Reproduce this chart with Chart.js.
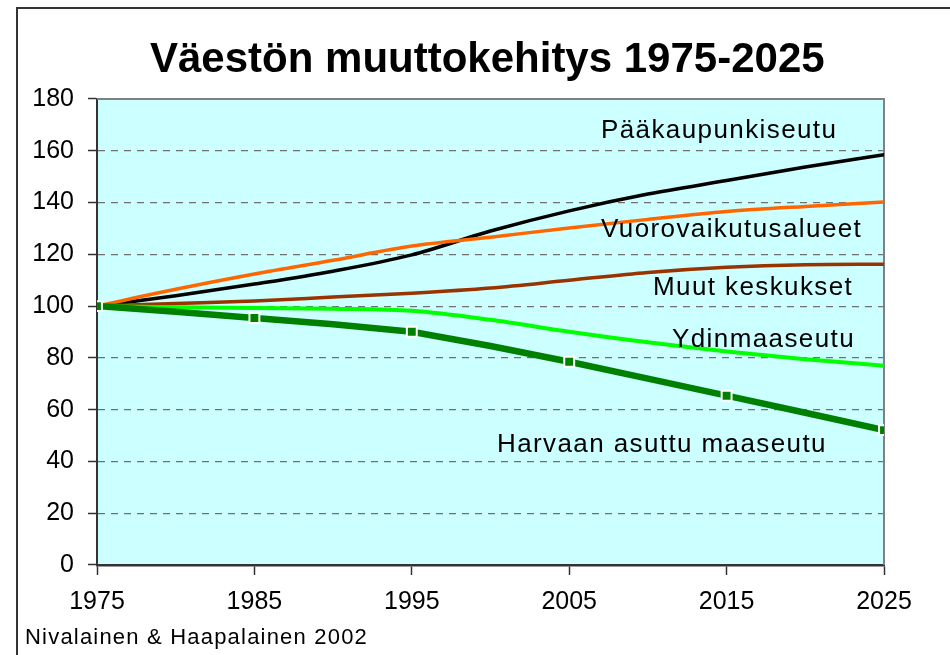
<!DOCTYPE html>
<html>
<head>
<meta charset="utf-8">
<script src="https://cdn.jsdelivr.net/npm/chart.js@4.4.0/dist/chart.umd.min.js"></script>
<style>
  html, body { margin: 0; padding: 0; background: #fff; overflow: hidden; }
  #wrap { position: relative; width: 950px; height: 655px; overflow: hidden; font-family: "Liberation Sans", Arial, sans-serif; }
  #frame { position: absolute; left: 16px; top: 7px; width: 1000px; height: 800px; border: 2px solid #333; box-sizing: border-box; }
  canvas { position: absolute; left: 0; top: 0; }
  .t { position: absolute; white-space: nowrap; color: #000; line-height: 1; }
  .s { font-size: 26px; letter-spacing: 1.4px; }
</style>
</head>
<body>
<div id="wrap">
  <div id="frame"></div>
  <canvas id="c" width="950" height="655"></canvas>
  <div class="t" id="title" style="left:150px; top:37px; font-size:42px; font-weight:bold;">Väestön muuttokehitys 1975-2025</div>
  <div class="t s" style="left:601px; top:116px;">Pääkaupunkiseutu</div>
  <div class="t s" style="left:601px; top:215px;">Vuorovaikutusalueet</div>
  <div class="t s" style="left:653px; top:273px;">Muut keskukset</div>
  <div class="t s" style="left:672px; top:325px;">Ydinmaaseutu</div>
  <div class="t s" style="left:497px; top:430px;">Harvaan asuttu maaseutu</div>
  <div class="t" style="left:25px; top:626px; font-size:22px; letter-spacing:1.2px;">Nivalainen &amp; Haapalainen 2002</div>
</div>
<script>
const years = [1975, 1980, 1985, 1990, 1995, 2000, 2005, 2010, 2015, 2020, 2025];
const paakaupunkiseutu   = [100, 104, 108.5, 113.5, 119.8, 129, 136.8, 143.3, 148.5, 153.7, 158.5];
const vuorovaikutus      = [100, 106.5, 112.4, 117.7, 123.2, 126.6, 130.2, 133.5, 136.5, 138.5, 140.2];
const muutKeskukset      = [100, 101, 102, 103.5, 105, 107, 110, 113, 115, 116, 116.2];
const ydinmaaseutu       = [100, 99.6, 99.3, 99, 98.2, 94.7, 90.1, 86, 82.5, 79.5, 77];
const harvaanAsuttu      = [100, 97.8, 95.4, 93, 90.1, 84.6, 78.5, 72, 65.4, 58.8, 52.1];
const markerYears        = [1975, 1985, 1995, 2005, 2015, 2025];
const xTicks = [1975, 1985, 1995, 2005, 2015, 2025];
const yTicks = [0, 20, 40, 60, 80, 100, 120, 140, 160, 180];

const pts = arr => years.map((y, i) => ({ x: y, y: arr[i] }));

const bgPlugin = {
  id: 'bg',
  beforeDraw(chart) {
    const { ctx, chartArea: a } = chart;
    ctx.save();
    ctx.fillStyle = '#ccffff';
    ctx.fillRect(a.left, a.top, a.right - a.left, a.bottom - a.top);
    ctx.restore();
  },
  beforeDatasetsDraw(chart) {
    const { ctx, chartArea: a } = chart;
    ctx.save();
    ctx.strokeStyle = '#808080';
    ctx.lineWidth = 2;
    ctx.beginPath();
    ctx.moveTo(a.left, a.top);
    ctx.lineTo(a.right, a.top);
    ctx.lineTo(a.right, a.bottom);
    ctx.stroke();
    ctx.restore();
  }
};

const line = (data, color, width) => ({
  data: pts(data),
  borderColor: color,
  backgroundColor: color,
  borderWidth: width,
  pointRadius: 0,
  cubicInterpolationMode: 'monotone',
  fill: false
});

const harvaan = line(harvaanAsuttu, '#008000', 6.5);
harvaan.pointRadius = ctx => markerYears.includes(years[ctx.dataIndex]) ? 7 : 0;
harvaan.pointStyle = 'rect';
harvaan.pointBorderColor = '#ffffff';
harvaan.pointBackgroundColor = '#008000';
harvaan.pointBorderWidth = 2;
harvaan.cubicInterpolationMode = 'default';
harvaan.tension = 0;

new Chart(document.getElementById('c'), {
  type: 'line',
  data: {
    datasets: [
      harvaan,
      line(ydinmaaseutu, '#00ff00', 4),
      line(muutKeskukset, '#993300', 3.5),
      line(vuorovaikutus, '#ff6600', 3.5),
      line(paakaupunkiseutu, '#000000', 3.5)
    ]
  },
  plugins: [bgPlugin],
  options: {
    responsive: false,
    animation: false,
    layout: { padding: { left: 0, right: 66, top: 99, bottom: 0 } },
    plugins: { legend: { display: false }, tooltip: { enabled: false }, title: { display: false } },
    scales: {
      x: {
        type: 'linear',
        min: 1975, max: 2025,
        afterBuildTicks: s => { s.ticks = xTicks.map(v => ({ value: v })); },
        afterFit: s => { s.height = 90; },
        ticks: { color: '#000', font: { family: 'Liberation Sans', size: 25 }, padding: 12, maxRotation: 0, callback: v => String(v) },
        grid: { drawOnChartArea: false, tickLength: 10, tickColor: '#333', tickWidth: 1.5 },
        border: { color: '#333', width: 2.5 }
      },
      y: {
        min: 0, max: 180,
        afterBuildTicks: s => { s.ticks = yTicks.map(v => ({ value: v })); },
        afterFit: s => { s.width = 97; },
        ticks: { color: '#000', font: { family: 'Liberation Sans', size: 25 }, padding: 14, callback: v => String(v) },
        grid: {
          color: c => (c.tick && (c.tick.value === 0 || c.tick.value === 180)) ? 'rgba(0,0,0,0)' : '#707070',
          lineWidth: 1.2,
          tickBorderDash: [1, 0],
          tickLength: 9,
          tickColor: '#333',
          tickWidth: 1.5
        },
        border: { color: '#333', width: 2, dash: [7, 6] }
      }
    }
  }
});
</script>
</body>
</html>
